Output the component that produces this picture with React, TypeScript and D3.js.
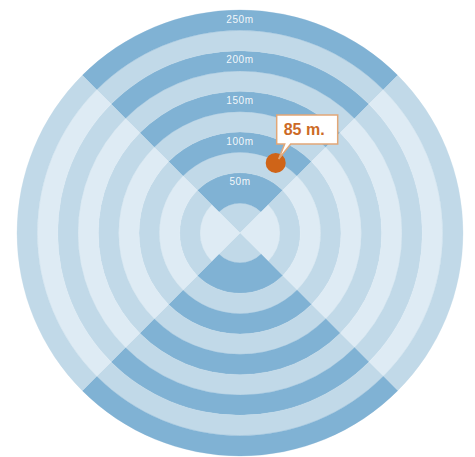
import React from 'react';
import * as d3 from 'd3';

// distances in metres
const bandEdges = [37.5, 62.5, 87.5, 112.5, 137.5, 162.5, 187.5, 212.5, 237.5, 262.5];
const axisInnerEdge = 25;
const distanceLabels = [50, 100, 150, 200, 250];
const markerDistance = 85;
const markerBearing = 27; // degrees clockwise from north
const markerLabel = '85 m.';

const W = 475;
const H = 457;
const cx = 240;
const cy = 233;

const DARK = '#80b2d4';
const MID = '#c1d9e8';
const LIGHT = '#deebf4';
const ORANGE = '#cf6418';

export default function App() {
  const r = d3.scaleLinear().domain([0, 262.5]).range([9.5, 223]);
  const arc = d3.arc<any>();
  const q = Math.PI / 4;

  // top/bottom quadrants: mid disk, then dark/mid alternating
  const vertEdges = [0, axisInnerEdge, ...bandEdges.slice(1)];
  // left/right quadrants: light disk, then mid/light alternating
  const horzEdges = [0, ...bandEdges];

  const sectors: { d: string; fill: string }[] = [];
  const quads = [
    { start: -q, edges: vertEdges, colors: [MID, DARK] },
    { start: q, edges: horzEdges, colors: [LIGHT, MID] },
    { start: 3 * q, edges: vertEdges, colors: [MID, DARK] },
    { start: 5 * q, edges: horzEdges, colors: [LIGHT, MID] },
  ];
  quads.forEach((qd) => {
    for (let i = 0; i < qd.edges.length - 1; i++) {
      sectors.push({
        d: arc({
          innerRadius: i === 0 ? 0 : r(qd.edges[i]),
          outerRadius: r(qd.edges[i + 1]),
          startAngle: qd.start,
          endAngle: qd.start + 2 * q,
        }) as string,
        fill: qd.colors[i % 2],
      });
    }
  });

  const a = (markerBearing * Math.PI) / 180;
  const mx = cx + r(markerDistance) * Math.sin(a);
  const my = cy - r(markerDistance) * Math.cos(a);

  // callout box geometry relative to the marker
  const bx = mx + 1;
  const by = my - 48;
  const bw = 61;
  const bh = 29;
  const callout = `M${bx},${by} H${bx + bw} V${by + bh} H${bx + 14} L${mx + 3},${my - 4} L${bx + 8},${by + bh} H${bx} Z`;

  return (
    <svg width={W} height={H} style={{ position: 'absolute', left: 0, top: 0 }}>
      <g transform={`translate(${cx},${cy})`}>
        {sectors.map((s, i) => (
          <path key={i} d={s.d} fill={s.fill} stroke={s.fill} strokeWidth={0.3} />
        ))}
        {distanceLabels.map((v) => (
          <text
            key={v}
            x={0}
            y={-r(v) - 1}
            textAnchor="middle"
            dominantBaseline="central"
            fill="#ffffff"
            fillOpacity={0.92}
            fontFamily="Liberation Sans, Arial, sans-serif"
            fontSize={10}
            letterSpacing={0.6}
          >
            {v}m
          </text>
        ))}
      </g>
      <circle cx={mx} cy={my} r={10} fill={ORANGE} />
      <path d={callout} fill="#ffffff" stroke="#e2a777" strokeWidth={1.5} strokeLinejoin="miter" />
      <text
        x={bx + 7}
        y={by + 20.5}
        fill="#cc6a26"
        fontFamily="Liberation Sans, Arial, sans-serif"
        fontWeight="bold"
        fontSize={16}
      >
        {markerLabel}
      </text>
    </svg>
  );
}
